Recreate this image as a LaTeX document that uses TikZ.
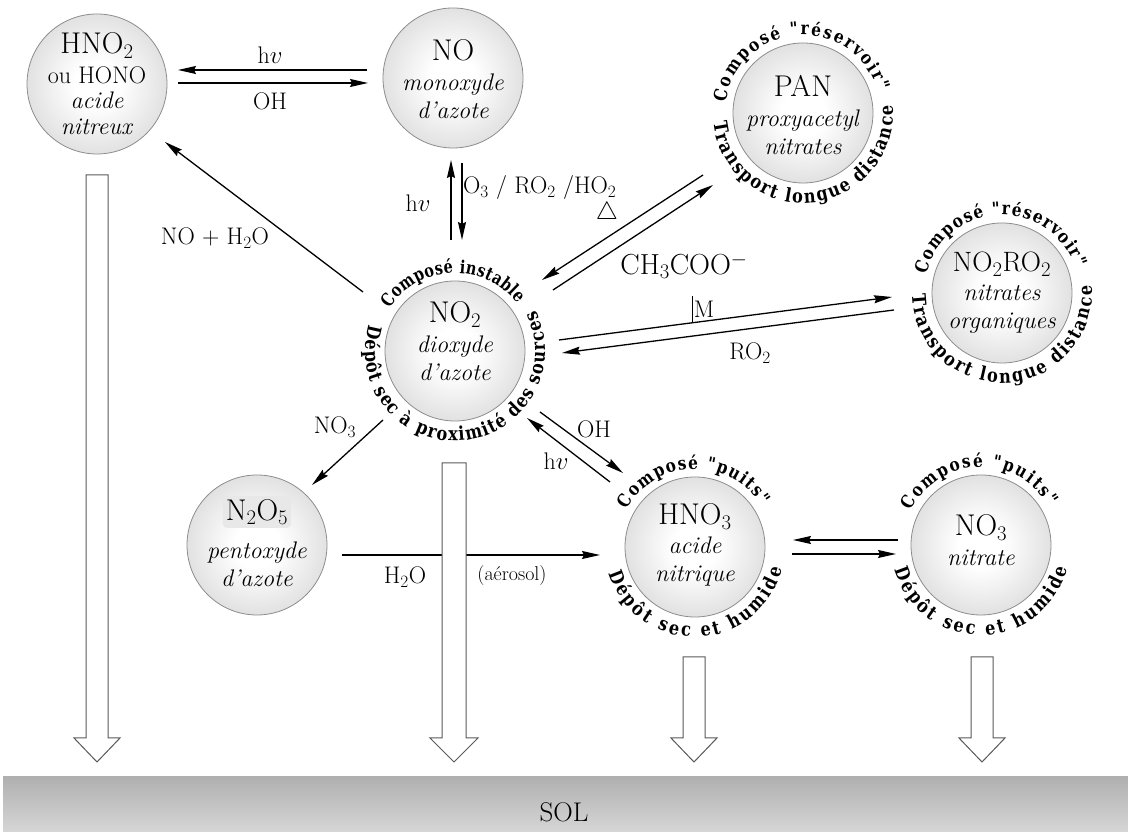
\documentclass[tikz,border=0pt]{standalone}
\usepackage{fontspec}
\newfontfamily\ringfontA{DejaVu Serif}[FakeStretch=0.8]
\newfontfamily\ringfontB{DejaVu Serif}[FakeStretch=0.85]
\usetikzlibrary{arrows.meta,decorations.text,shadings}
\pgfdeclareradialshading{ballshade}{\pgfpoint{0bp}{0bp}}{color(0bp)=(white); color(8bp)=(white); color(30bp)=(black!15); color(50bp)=(black!40); color(51bp)=(black!40)}
\newcommand{\tfA}{\fontsize{30}{30}\selectfont}
\newcommand{\ringtop}[5]{\path[decorate,decoration={text along path,text align=fit to path,text={|#5\bfseries\fontsize{18}{18}\selectfont|#4}}] (#1) ++(#2:78) arc[start angle=#2,end angle=#3,radius=78];}
\newcommand{\ringbot}[4]{\path[decorate,decoration={text along path,text align=fit to path,text={|\ringfontB\bfseries\fontsize{19}{19}\selectfont|#4}}] (#1) ++(#2:90) arc[start angle=#2,end angle=#3,radius=90];}
\begin{document}
\begin{tikzpicture}[x=1pt,y=1pt,
  ball/.style={circle, minimum size=140pt, inner sep=0pt, shading=ballshade, draw=black!45, line width=0.8pt},
  intext/.style={align=center, inner sep=0pt, font=\fontsize{24}{28}\selectfont},
  lbl/.style={inner sep=1pt, font=\fontsize{24}{26}\selectfont},
  conn/.style={line width=1.3pt, -{Stealth[length=18pt,width=8pt,inset=2pt]}},
  hollow/.style={draw=black!65, fill=white, line width=1pt, line join=miter}]
\useasboundingbox (0,0) rectangle (1128,832);

% ground
\node[rectangle, minimum width=1125pt, minimum height=55pt, inner sep=0pt, top color=black!31, bottom color=black!16] (solbar) at (565.5,27.5) {};
\node[lbl, font=\fontsize{27}{28}\selectfont] (sol) at (564,20) {SOL};

% balls
\node[ball] (hno2) at (97,748) {};
\node[ball] (no) at (453,754) {};
\node[ball] (pan) at (803,719) {};
\node[ball] (no2) at (455,481) {};
\node[ball] (noro) at (1002,539) {};
\node[ball] (n2o5) at (257,287) {};
\node[ball] (hno3) at (695,285) {};
\node[ball] (no3) at (981,287) {};

% ball texts
\node[intext] (thno2) at (97,748) {{\tfA HNO$_2$}\\[2pt] ou HONO\\[-3pt] \textit{acide}\\[-2pt] \textit{nitreux}};
\node[intext] (tno) at (453,753) {{\tfA NO}\\[2pt] \textit{monoxyde}\\ \textit{d'azote}};
\node[intext] (tpan) at (803,717) {{\tfA PAN}\\[2pt] \textit{proxyacetyl}\\ \textit{nitrates}};
\node[intext] (tno2) at (455,491) {{\tfA NO$_2$}\\[2pt] \textit{dioxyde}\\ \textit{d'azote}};
\node[intext] (tnoro) at (1002,539) {{\fontsize{28}{28}\selectfont NO$_2$RO$_2$}\\[1pt] \textit{nitrates}\\ \textit{organiques}};
\node[fill=black!9, rounded corners=4pt, inner sep=3pt, font=\fontsize{30}{30}\selectfont] (tn2o5) at (257,320) {N$_2$O$_5$};
\node[intext] (tn2o5b) at (257,268) {\textit{pentoxyde}\\ \textit{d'azote}};
\node[intext] (thno3) at (695,287) {{\tfA HNO$_3$}\\[1pt] \textit{acide}\\ \textit{nitrique}};
\node[intext] (tno3) at (981,292) {{\tfA NO$_3$}\\[2pt] \textit{nitrate}};

% ring texts
\ringtop{no2.center}{147}{37}{Composé instable}{\ringfontA}
\ringbot{no2.center}{163}{387}{Dépôt sec à proximité des sources}
\ringtop{pan.center}{172}{16}{Composé "réservoir"}{\ringfontB}
\ringbot{pan.center}{186}{365}{Transport longue distance}
\ringtop{noro.center}{166}{19}{Composé "réservoir"}{\ringfontB}
\ringbot{noro.center}{181}{365}{Transport longue distance}
\ringtop{hno3.center}{151}{32}{Composé "puits"}{\ringfontB}
\ringbot{hno3.center}{197}{346}{Dépôt sec et humide}
\ringtop{no3.center}{154}{30}{Composé "puits"}{\ringfontB}
\ringbot{no3.center}{196}{345}{Dépôt sec et humide}

% HNO2 <-> NO
\coordinate (c1a) at (367,762); \coordinate (c1b) at (178,762);
\coordinate (c2a) at (178,749); \coordinate (c2b) at (368,749);
\draw[conn] (c1a) -- (c1b);
\draw[conn] (c2a) -- (c2b);
\node[lbl] (hv1) at (270,777) {h$v$};
\node[lbl] (oh1) at (270,731) {OH};

% NO <-> NO2
\coordinate (v1a) at (451,592); \coordinate (v1b) at (451,672);
\coordinate (v2a) at (462,669); \coordinate (v2b) at (462,592);
\draw[conn] (v1a) -- (v1b);
\draw[conn] (v2a) -- (v2b);
\node[lbl] (hv2) at (418,629) {h$v$};
\node[lbl, anchor=west] (o3) at (462,644) {O$_3$ / RO$_2$ /HO$_2$};
\node[lbl] (tri) at (607,619) {$\triangle$};

% NO2 <-> PAN
\coordinate (p1a) at (703,657); \coordinate (p1b) at (542,552);
\coordinate (p2a) at (553,542); \coordinate (p2b) at (713,647);
\draw[conn] (p1a) -- (p1b);
\draw[conn] (p2a) -- (p2b);
\node[lbl, font=\fontsize{29}{30}\selectfont] (ch3) at (684,566) {CH$_3$COO$^-$};

% NO2 <-> NO2RO2
\coordinate (r1a) at (559,492); \coordinate (r1b) at (892,535);
\coordinate (r2a) at (894,522); \coordinate (r2b) at (562,479);
\draw[conn] (r1a) -- (r1b);
\draw[conn] (r2a) -- (r2b);
\node[lbl] (m) at (704,523) {M};
\coordinate (t1) at (692,536); \coordinate (t2) at (692,510);
\draw[line width=0.6pt] (t1) -- (t2);
\node[lbl] (ro2) at (750,479) {RO$_2$};

% NO2 -> HNO2
\coordinate (h1a) at (363,540); \coordinate (h1b) at (165,690);
\draw[conn] (h1a) -- (h1b);
\node[lbl] (noh2o) at (215,594) {NO + H$_2$O};

% NO2 -> N2O5
\coordinate (n1a) at (383,412); \coordinate (n1b) at (312,347);
\draw[conn] (n1a) -- (n1b);
\node[lbl] (no3l) at (335,405) {NO$_3$};

% NO2 <-> HNO3
\coordinate (q1a) at (540,420); \coordinate (q1b) at (623,359);
\coordinate (q2a) at (610,350); \coordinate (q2b) at (527,414);
\draw[conn] (q1a) -- (q1b);
\draw[conn] (q2a) -- (q2b);
\node[lbl] (oh2) at (594,403) {OH};
\node[lbl] (hv3) at (556,371) {h$v$};

% N2O5 -> HNO3
\coordinate (w1a) at (342,277); \coordinate (w1b) at (600,277);
\draw[conn] (w1a) -- (w1b);
\node[lbl] (h2o) at (405,255) {H$_2$O};
\node[lbl, font=\fontsize{20}{22}\selectfont] (aer) at (512,256) {(aérosol)};

% HNO3 <-> NO3
\coordinate (s1a) at (898,292); \coordinate (s1b) at (793,292);
\coordinate (s2a) at (792,278); \coordinate (s2b) at (896,278);
\draw[conn] (s1a) -- (s1b);
\draw[conn] (s2a) -- (s2b);

% hollow arrows to the ground
\draw[hollow] (86,657) -- (86,94) -- (74,94) -- (97,70) -- (120,94) -- (108,94) -- (108,657) -- cycle;
\draw[hollow] (442,369) -- (442,94) -- (430,94) -- (454,70) -- (478,94) -- (466,94) -- (466,369) -- cycle;
\draw[hollow] (683,175) -- (683,94) -- (671,94) -- (694,70) -- (717,94) -- (705,94) -- (705,175) -- cycle;
\draw[hollow] (971,175) -- (971,94) -- (959,94) -- (982,70) -- (1005,94) -- (993,94) -- (993,175) -- cycle;
\end{tikzpicture}
\end{document}
